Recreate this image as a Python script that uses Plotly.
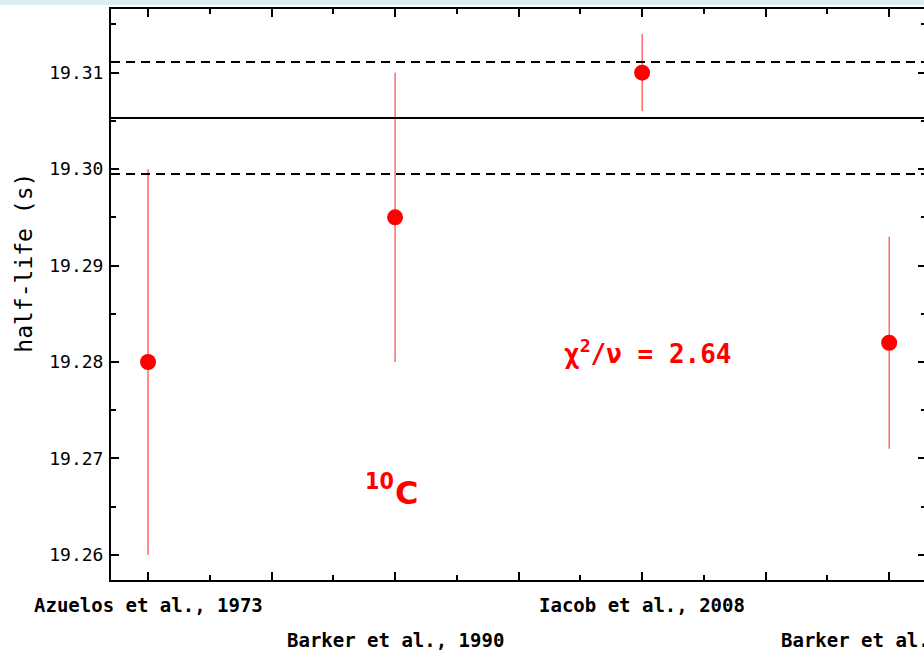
import plotly.graph_objects as go

# ---- data ----
labels = ["Azuelos et al., 1973", "Barker et al., 1990", "Iacob et al., 2008", "Barker et al., 2009"]
positions = [1, 2, 3, 4]
half_life = [19.280, 19.295, 19.310, 19.282]
half_life_err = [0.020, 0.015, 0.004, 0.011]
mean_value = 19.3053
mean_err = 0.0058
chi2_text = "χ<sup>2</sup>/ν = 2.64"
nucleus_mass = "10"
nucleus_symbol = "C"
y_title = "half-life (s)"

W, H = 924, 655
ML, MR, MT, MB = 111, 0, 9, 75
plot_w = W - ML - MR
plot_h = H - MT - MB

x_range = [0.85, 4.141]
y_range = [19.2574, 19.3166]

fig = go.Figure()
fig.add_trace(go.Scatter(
    x=positions, y=half_life,
    mode="markers",
    marker=dict(color="#ff0000", size=16),
    error_y=dict(type="data", array=half_life_err, visible=True,
                 color="#ff2020", thickness=1, width=0),
    showlegend=False, hoverinfo="x+y",
))
# invisible trace to carry the right-side tick axis
fig.add_trace(go.Scatter(x=[positions[0]], y=[half_life[0]], yaxis="y2",
                         mode="markers", marker=dict(opacity=0),
                         showlegend=False, hoverinfo="skip"))

# mean and its uncertainty band
fig.add_shape(type="line", xref="paper", x0=0, x1=1, yref="y",
              y0=mean_value, y1=mean_value, line=dict(color="black", width=2))
for v in (mean_value + mean_err, mean_value - mean_err):
    fig.add_shape(type="line", xref="paper", x0=0, x1=1, yref="y",
                  y0=v, y1=v, line=dict(color="black", width=2, dash="9px,6px"))

# light blue strip along the top of the picture
fig.add_shape(type="rect", xref="paper", yref="paper",
              x0=-ML / plot_w, x1=1, y0=1 + 4 / plot_h, y1=1 + (MT + 2) / plot_h,
              fillcolor="#dcecf0", line=dict(width=0), layer="below")

# category labels in two staggered rows
for i, (p, lab) in enumerate(zip(positions, labels)):
    ypx = 25 if i % 2 == 0 else 60
    fig.add_annotation(x=p, xref="x", y=-ypx / plot_h, yref="paper",
                       text="<b>" + lab + "</b>", showarrow=False,
                       xanchor="center", yanchor="middle",
                       font=dict(family="DejaVu Sans Mono", size=19, color="black"))

# y axis title (placed as an annotation to match its position)
fig.add_annotation(x=0, xref="paper", xshift=-87, y=19.2903, yref="y",
                   text=y_title, textangle=-90, showarrow=False,
                   xanchor="center", yanchor="middle",
                   font=dict(family="DejaVu Sans Mono", size=23, color="black"))

fig.add_annotation(x=3.024, y=19.2810, xref="x", yref="y", text="<b>" + chi2_text + "</b>",
                   showarrow=False, xanchor="center", yanchor="middle",
                   font=dict(family="DejaVu Sans Mono", size=26, color="#ff0000"))
fig.add_annotation(x=1.935, y=19.2677, xref="x", yref="y", text="<b>" + nucleus_mass + "</b>",
                   showarrow=False, xanchor="center", yanchor="middle",
                   font=dict(family="DejaVu Sans Condensed, DejaVu Sans", size=23, color="#ff0000"))
fig.add_annotation(x=2.045, y=19.2664, xref="x", yref="y", text="<b>" + nucleus_symbol + "</b>",
                   showarrow=False, xanchor="center", yanchor="middle",
                   font=dict(family="DejaVu Sans", size=32, color="#ff0000"))

axis_font = dict(family="DejaVu Sans Mono", size=18, color="black")
fig.update_layout(
    width=W, height=H,
    margin=dict(l=ML, r=MR, t=MT, b=MB, pad=0),
    paper_bgcolor="white", plot_bgcolor="white",
    xaxis=dict(range=x_range, showgrid=False, zeroline=False,
               showline=True, linecolor="black", linewidth=2, mirror="ticks",
               ticks="inside", ticklen=8, tickwidth=2, tickcolor="black",
               tick0=0, dtick=0.5, showticklabels=False,
               minor=dict(ticks="inside", ticklen=5, tickwidth=2, tickcolor="black", dtick=0.25)),
    yaxis=dict(range=y_range, showgrid=False, zeroline=False,
               showline=True, linecolor="black", linewidth=2,
               ticks="inside", ticklen=8, tickwidth=2, tickcolor="black",
               tick0=19.26, dtick=0.01, tickformat=".2f", tickfont=axis_font,
               ticklabelstandoff=2,
               minor=dict(ticks="inside", ticklen=5, tickwidth=2, tickcolor="black", dtick=0.005)),
    yaxis2=dict(range=y_range, overlaying="y", side="right", showgrid=False, zeroline=False,
                showline=False, ticks="inside", ticklen=6, tickwidth=2, tickcolor="black",
                tick0=19.26, dtick=0.01, showticklabels=False,
                minor=dict(ticks="inside", ticklen=3, tickwidth=2, tickcolor="black", dtick=0.005)),
    font=dict(family="DejaVu Sans Mono"),
)

# remove the default page margin so the figure fills the 924x655 window exactly
fig.write_html("out.html", config={"displayModeBar": False},
               post_script="document.body.style.margin='0';document.body.style.overflow='hidden';")
